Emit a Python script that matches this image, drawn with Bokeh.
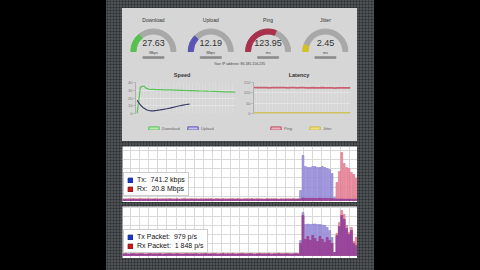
import numpy as np
from bokeh.plotting import figure
from bokeh.layouts import row, column
from bokeh.models import (ColumnDataSource, Range1d, Legend, LegendItem,
                          FixedTicker, SingleIntervalTicker, Spacer)
from bokeh.core.properties import value
from bokeh.embed import file_html
from bokeh.resources import INLINE

# ---------------- data ----------------
gauge_names = ["Download", "Upload", "Ping", "Jitter"]
gauge_values = [27.63, 12.19, 123.95, 2.45]
gauge_units = ["Mbps", "Mbps", "ms", "ms"]
gauge_max = [100, 50, 200, 25]
gauge_colors = ["#55c24f", "#5a52b4", "#a8314c", "#d6c21c"]
ip_text = "Your IP address: 86.185.156.235"
chart_titles = ["Speed", "Latency"]

download_mbps = [0, 34, 35.5, 32, 31, 31.1, 30.9, 30.8, 30.6, 30.5, 30.4, 30.2,
                 30.1, 29.9, 29.8, 29.7, 29.5, 29.4, 29.3, 29.1, 29.0, 28.9,
                 28.7, 28.6, 28.5, 28.3, 28.2, 28.0, 27.9, 27.8, 27.63]
upload_mbps = [17, 11, 7, 4.5, 3.5, 3.5, 4, 4.6, 5.3, 6.1, 7, 8, 9, 10, 10.9,
               11.6, 12.19]

ping_ms = [126, 125, 125, 126, 125, 124, 125, 125, 126, 125, 125, 124, 125,
           125, 124, 125, 125, 124, 124, 125, 124, 124, 125, 124, 124, 124,
           123, 124, 124, 124, 124, 123.95]
jitter_ms = [2.6, 2.5, 2.7, 2.5, 2.4, 2.6, 2.5, 2.5, 2.6, 2.4, 2.5, 2.5, 2.6,
             2.4, 2.5, 2.4, 2.5, 2.6, 2.5, 2.4, 2.5, 2.5, 2.4, 2.5, 2.6, 2.5,
             2.4, 2.5, 2.4, 2.5, 2.5, 2.45]

tx_rate = [1.0, 1.2, 0.9, 1.1, 1.3, 1.0, 1.2, 1.1, 0.9, 1.2,
           1.0, 1.1, 1.3, 1.2, 1.0, 0.9, 1.1, 1.2, 1.0, 1.3,
           1.1, 1.0, 1.2, 0.9, 1.1, 1.2, 1.0, 1.1, 1.3, 1.0,
           1.2, 1.1, 0.9, 1.0, 1.2, 1.1, 1.3, 1.0, 1.1, 1.2,
           0.9, 1.1, 1.0, 1.2, 1.3, 1.1, 1.0, 1.2, 0.9, 1.1,
           1.0, 1.2, 1.1, 1.3, 1.0, 0.9, 1.2, 1.1, 1.0, 1.2,
           1.1, 1.3, 1.0, 1.2, 0.9, 1.1, 1.0, 1.2, 1.1, 1.0,
           1.3, 1.1, 1.2,
           10, 45, 34, 33, 33, 34, 34, 33, 33, 34, 33, 32, 31, 27, 3,
           1.5, 1.5, 1.6, 1.4, 1.5, 1.4, 1.5, 1.3, 1.2]
rx_rate = [1.8, 1.6, 2.0, 1.7, 1.9, 1.8, 1.6, 2.1, 1.8, 1.7,
           1.9, 1.8, 1.6, 2.0, 1.8, 1.7, 1.9, 1.6, 1.8, 2.0,
           1.7, 1.8, 1.9, 1.6, 1.8, 2.1, 1.7, 1.8, 1.9, 1.7,
           1.8, 1.6, 2.0, 1.8, 1.7, 1.9, 1.8, 1.6, 2.0, 1.8,
           1.7, 1.9, 1.8, 1.6, 1.8, 2.0, 1.7, 1.9, 1.8, 1.6,
           2.0, 1.8, 1.7, 1.9, 1.8, 2.1, 1.7, 1.8, 1.6, 1.9,
           1.8, 1.7, 2.0, 1.8, 1.6, 1.9, 1.8, 1.7, 2.0, 1.8,
           1.9, 1.7, 1.8,
           1.5, 2.5, 2.2, 2.0, 2.1, 2.2, 2.0, 2.1, 2.2, 2.0, 2.1, 2.0, 2.1, 1.9, 1.6,
           18, 29, 48, 37, 33, 32, 28, 26, 22]
tx_pps = [150, 170, 130, 160, 180, 140, 150, 170, 160, 130,
          150, 180, 140, 160, 150, 170, 130, 150, 160, 180,
          140, 150, 170, 160, 130, 150, 180, 140, 160, 150,
          170, 130, 150, 160, 180, 140, 150, 170, 160, 130,
          150, 180, 140, 160, 150, 170, 130, 150, 160, 180,
          140, 150, 170, 160, 130, 150, 180, 140, 160, 150,
          170, 130, 150, 160, 180, 140, 150, 170, 160, 130,
          150, 180, 140,
          1500, 4300, 3100, 3150, 3100, 3150, 3150, 3100, 3100, 3050, 3000,
          2800, 2500, 1800, 300,
          2000, 2900, 4000, 3600, 2700, 2100, 2500, 1200, 979]
rx_pps = [200, 230, 180, 210, 240, 190, 200, 220, 210, 180,
          200, 240, 190, 210, 200, 230, 180, 200, 210, 240,
          190, 200, 230, 210, 180, 200, 240, 190, 210, 200,
          230, 180, 200, 210, 240, 190, 200, 230, 210, 180,
          200, 240, 190, 210, 200, 230, 180, 200, 210, 240,
          190, 200, 230, 210, 180, 200, 240, 190, 210, 200,
          230, 180, 200, 210, 240, 190, 200, 230, 210, 180,
          200, 240, 190,
          1200, 4000, 1600, 1900, 1500, 2000, 1700, 1400, 1900, 1600, 1300,
          1800, 1500, 1200, 300,
          2200, 3300, 4500, 4100, 3000, 2300, 2800, 1400, 1848]
legend_rate = ["Tx:\u00a0\u00a0741.2 kbps", "Rx:\u00a0\u00a020.8 Mbps"]
legend_pps = ["Tx Packet:\u00a0\u00a0979 p/s", "Rx Packet:\u00a0\u00a01\u00a0848 p/s"]

# ---------------- style ----------------
FONT = value("Liberation Sans")
PANEL = "#d6d6d6"
TX_FILL, TX_LINE = "#a79ee1", "#7b6ecb"
RX_FILL, RX_LINE = "#ef95a5", "#d4607a"
OV_FILL, OV_LINE = "#9c4aa6", "#84348e"
NAN = [float("nan")]


def bare(p, bg):
    p.outline_line_color = None
    p.background_fill_color = bg
    p.border_fill_color = bg
    p.xaxis.visible = False
    p.yaxis.visible = False


def legend_swatch(p, fill, line, lw):
    # legend-only renderer: a single NaN quad, never drawn in the plot
    return p.quad(left=NAN, right=NAN, top=NAN, bottom=NAN, fill_color=fill,
                  line_color=line, line_width=lw)


# ---------------- gauges (header of the top panel) ----------------
g = figure(width=235, height=71, x_range=Range1d(-0.54, 3.56),
           y_range=Range1d(-28, 43), output_backend="svg",
           toolbar_location=None, min_border=0)
bare(g, PANEL)
g.grid.visible = False
gx = list(range(len(gauge_names)))
gsrc = ColumnDataSource(dict(
    x=gx, y=[0] * len(gx), name=gauge_names,
    val=[f"{v:.2f}" for v in gauge_values], unit=gauge_units,
    start=[np.pi * (1 - min(v / m, 1)) for v, m in zip(gauge_values, gauge_max)],
    color=gauge_colors))
g.annular_wedge(x="x", y="y", inner_radius=17.5, outer_radius=22.5,
                inner_radius_units="screen", outer_radius_units="screen",
                start_angle=0, end_angle=np.pi, color="#a8a8a8", source=gsrc)
g.annular_wedge(x="x", y="y", inner_radius=17.5, outer_radius=22.5,
                inner_radius_units="screen", outer_radius_units="screen",
                start_angle="start", end_angle=np.pi, color="color", source=gsrc)
g.text(x="x", y=32, text="name", source=gsrc, text_font=FONT,
       text_font_size="5px", text_color="#333", text_align="center",
       text_baseline="middle")
g.text(x="x", y=9, text="val", source=gsrc, text_font=FONT,
       text_font_size="9px", text_color="#333", text_align="center",
       text_baseline="middle")
g.text(x="x", y=-1, text="unit", source=gsrc, text_font=FONT,
       text_font_size="3.5px", text_color="#444", text_align="center",
       text_baseline="middle")
g.rect(x="x", y=-6, width=21, height=1.5, width_units="screen",
       height_units="screen", color="#8c8c8c", source=gsrc)
g.text(x=[1.5], y=[-12], text=[ip_text], text_font=FONT,
       text_font_size="3.5px", text_color="#444", text_align="center",
       text_baseline="middle")
# titles of the two line charts below, centred over each chart
g.text(x=[0.5, 2.54], y=[-23, -23], text=chart_titles, text_font=FONT,
       text_font_size="5.5px", text_font_style="bold", text_color="#333",
       text_align="center", text_baseline="middle")


# ---------------- line charts ----------------
def line_fig(width, left, right, xr, yr, yticks):
    p = figure(width=width, height=37, x_range=xr, y_range=yr,
               output_backend="svg", toolbar_location=None,
               min_border_left=left, min_border_right=right,
               min_border_top=3, min_border_bottom=3)
    p.outline_line_color = None
    p.background_fill_color = PANEL
    p.border_fill_color = PANEL
    p.xaxis.visible = False
    p.yaxis.ticker = FixedTicker(ticks=yticks)
    p.yaxis.major_label_text_font_size = "4px"
    p.yaxis.major_label_text_color = "#777"
    p.yaxis.major_label_text_font = "Liberation Sans"
    p.yaxis.major_label_standoff = 1
    p.yaxis.major_tick_in = 0
    p.yaxis.major_tick_out = 2
    p.yaxis.minor_tick_line_color = None
    p.yaxis.axis_line_color = "#b0b0b0"
    p.yaxis.major_tick_line_color = "#b0b0b0"
    p.ygrid.grid_line_color = "#e4e4e4"
    p.xgrid.ticker = SingleIntervalTicker(interval=1)
    p.xgrid.grid_line_color = "#e0e0e0"
    p.xgrid.grid_line_width = 0.6
    return p


def legend_fig(width, entries, loc):
    p = figure(width=width, height=25, x_range=Range1d(0, 1),
               y_range=Range1d(0, 1), output_backend="svg",
               toolbar_location=None, min_border=0)
    bare(p, PANEL)
    p.grid.visible = False
    items = []
    for label, fill, line in entries:
        r = legend_swatch(p, fill, line, 1)
        items.append(LegendItem(label=label, renderers=[r]))
    lg = Legend(items=items, orientation="horizontal", location=loc,
                glyph_width=13, glyph_height=4, label_text_font_size="4px",
                label_text_color="#666", label_text_font="Liberation Sans",
                padding=0, spacing=4, label_standoff=2, margin=0,
                border_line_color=None, background_fill_alpha=0,
                label_height=4)
    p.add_layout(lg, "center")
    return p


speed = line_fig(118, 13, 5, Range1d(-0.5, len(download_mbps) - 1),
                 Range1d(0, 40), [0, 10, 20, 30, 40])
speed.line(list(range(len(download_mbps))), download_mbps, color="#5cc25a",
           line_width=1.2)
speed.line(list(range(len(upload_mbps))), upload_mbps, color="#3c3c66",
           line_width=1.2)
speed_leg = legend_fig(118, [("Download", "#b9e6b3", "#5cc25a"),
                             ("Upload", "#c4c2ea", "#5a52b4")], (12, 10.5))

lat = line_fig(117, 13, 7, Range1d(0, len(ping_ms) - 1),
               Range1d(0, 150), [0, 50, 100, 150])
lat.line(list(range(len(ping_ms))), ping_ms, color="#cc5e72", line_width=1.6)
lat.line(list(range(len(jitter_ms))), jitter_ms, color="#cdb93a",
         line_width=1.6)
lat_leg = legend_fig(117, [("Ping", "#e9b3bd", "#c04a62"),
                           ("Jitter", "#ece08a", "#cdb93a")], (16, 10.5))


# ---------------- bar charts ----------------
def bar_fig(height, yr, yticks, tx, rx, labels, loc):
    n = len(tx)
    p = figure(width=235, height=height, x_range=Range1d(-0.5, n - 0.5),
               y_range=yr, output_backend="svg", toolbar_location=None,
               min_border=0)
    bare(p, "white")
    p.xgrid.ticker = FixedTicker(ticks=[2.8 + 3.76 * i for i in range(26)])
    p.ygrid.ticker = FixedTicker(ticks=yticks)
    p.grid.grid_line_color = "#d9d9d9"
    p.grid.grid_line_width = 1
    xs = list(range(n))
    ov = list(np.minimum(tx, rx))
    p.vbar(x=xs, top=tx, width=0.78, fill_color=TX_FILL, line_color=TX_LINE,
           line_width=0.5)
    p.vbar(x=xs, top=rx, width=0.78, fill_color=RX_FILL, line_color=RX_LINE,
           line_width=0.5)
    p.vbar(x=xs, top=ov, width=0.78, fill_color=OV_FILL, line_color=OV_LINE,
           line_width=0.5)
    items = []
    for label, fill, line in zip(labels, ["#1538d6", "#d61515"],
                                 ["#0a1a70", "#700a0a"]):
        r = legend_swatch(p, fill, line, 0.8)
        items.append(LegendItem(label=label, renderers=[r]))
    lg = Legend(items=items, location=loc,
                glyph_width=6, glyph_height=6, label_text_font_size="7px",
                label_text_font="Liberation Sans", label_text_color="#111",
                label_height=7, padding=3, spacing=2, label_standoff=4,
                margin=0, border_line_color="#9a9a9a", border_line_width=1,
                background_fill_color="white", background_fill_alpha=1)
    p.add_layout(lg, "center")
    return p


c1 = bar_fig(56, Range1d(-2, 54), [4.4, 13.5, 22.6, 31.7, 40.8, 49.9],
             tx_rate, rx_rate, legend_rate, (1, 6))
c2 = bar_fig(52, Range1d(-300, 4900), [270, 1170, 2070, 2970, 3870, 4770],
             tx_pps, rx_pps, legend_pps, (1, 5))

# ---------------- layout ----------------
panel_style = {"background-color": PANEL}
charts = row(column(speed, speed_leg, styles=panel_style),
             column(lat, lat_leg, styles=panel_style),
             styles=panel_style)
top_panel = column(g, charts, styles=panel_style)
strip = column(
    Spacer(width=268, height=8),
    row(Spacer(width=16, height=1), top_panel),
    Spacer(width=268, height=5),
    row(Spacer(width=16, height=1), c1),
    Spacer(width=268, height=4),
    row(Spacer(width=16, height=1), c2),
    width=268, height=270,
    styles={"background-color": "#4f5255",
            "background-image": "radial-gradient(circle, #2c2f32 40%, transparent 55%)",
            "background-size": "3px 3px"})
root = row(Spacer(width=106, height=270), strip, Spacer(width=106, height=270),
           width=480, height=270, styles={"background-color": "black"})

open("out.html", "w").write(file_html(root, INLINE))
